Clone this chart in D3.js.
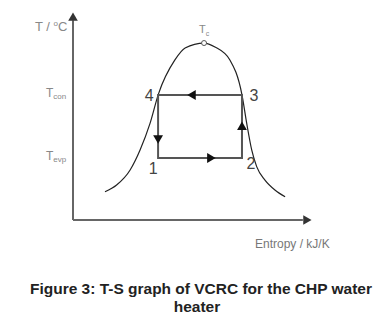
<!DOCTYPE html>
<html lang="en">
  <head>
    <meta charset="utf-8">
    <title>T-S graph of VCRC</title>
    <script src="https://d3js.org/d3.v7.min.js"></script>
    <style>
      body { margin: 0; background: #fff; }
      text { font-family: "Liberation Sans", Arial, sans-serif; }
    </style>
  </head>
  <body>
    <script type="text/javascript">
    // entropy (s) and temperature (T) in arbitrary units, 0..100
    var domeS = [13.5, 18.4, 24.1, 28.3, 32.5, 36.0, 43.0, 47.3, 55.3, 59.9, 66.2, 71.3, 73.3, 75.4, 77.5, 81.0, 85.2, 89.5];
    var domeT = [13.7, 17.0, 24.3, 34.0, 46.9, 61.0, 77.7, 83.5, 85.9, 84.0, 77.7, 60.7, 46.9, 34.0, 25.9, 19.4, 14.6, 11.3];

    // cycle states 1..4
    var cycleLabels = ["1", "2", "3", "4"];
    var cycleS = [35.9, 71.3, 71.3, 35.9];
    var cycleT = [30.1, 30.1, 60.7, 60.7];

    var critical = { s: 55.3, T: 85.9 };

    var w = 386;
    var h = 323;

    var svg = d3.select("body")
                .append("svg")
                .attr("width", w)
                .attr("height", h);

    var xScale = d3.scaleLinear()
                   .domain([0, 100])
                   .range([73, 310]);

    var yScale = d3.scaleLinear()
                   .domain([0, 100])
                   .range([220, 14]);

    // axes
    svg.append("line")
       .attr("x1", xScale(0)).attr("y1", yScale(0))
       .attr("x2", xScale(0)).attr("y2", yScale(97))
       .attr("stroke", "#666").attr("stroke-width", 2);
    svg.append("line")
       .attr("x1", xScale(0)).attr("y1", yScale(0))
       .attr("x2", xScale(97)).attr("y2", yScale(0))
       .attr("stroke", "#666").attr("stroke-width", 2);

    var tri = d3.symbol().type(d3.symbolTriangle).size(40);
    svg.append("path")
       .attr("d", tri)
       .attr("fill", "#333")
       .attr("transform", "translate(" + xScale(0) + "," + (yScale(100) + 4) + ")");
    svg.append("path")
       .attr("d", tri)
       .attr("fill", "#333")
       .attr("transform", "translate(" + (xScale(100) - 4) + "," + yScale(0) + ") rotate(90)");

    // saturation dome
    var domePts = domeS.map(function(s, i) { return [s, domeT[i]]; });
    var line = d3.line()
                 .x(function(d) { return xScale(d[0]); })
                 .y(function(d) { return yScale(d[1]); })
                 .curve(d3.curveMonotoneX);
    svg.append("path")
       .datum(domePts)
       .attr("d", line)
       .attr("fill", "none")
       .attr("stroke", "#222")
       .attr("stroke-width", 1.2);

    // cycle 1-2-3-4
    var cyc = cycleS.map(function(s, i) { return [s, cycleT[i]]; });
    var cycLine = d3.line()
                    .x(function(p) { return xScale(p[0]); })
                    .y(function(p) { return yScale(p[1]); });
    svg.append("path")
       .datum(cyc)
       .attr("d", function(d) { return cycLine(d) + "Z"; })
       .attr("fill", "none")
       .attr("stroke", "#555")
       .attr("stroke-width", 2);

    // direction arrows
    var arrS = [57.8, 71.3, 50.6, 35.9];
    var arrT = [30.1, 45.1, 60.7, 39.8];
    var arrA = [90, 0, -90, 180];
    var smallTri = d3.symbol().type(d3.symbolTriangle).size(42);
    svg.selectAll("path.arr")
       .data(arrS)
       .enter()
       .append("path")
       .attr("class", "arr")
       .attr("d", smallTri)
       .attr("fill", "#111")
       .attr("transform", function(d, i) {
         return "translate(" + xScale(d) + "," + yScale(arrT[i]) + ") rotate(" + arrA[i] + ")";
       });

    // state numbers
    var lblDx = [-5, 9, 12, -9];
    var lblDy = [16, 11, 6, 6];
    svg.selectAll("text.num")
       .data(cycleLabels)
       .enter()
       .append("text")
       .attr("class", "num")
       .attr("x", function(d, i) { return xScale(cycleS[i]) + lblDx[i]; })
       .attr("y", function(d, i) { return yScale(cycleT[i]) + lblDy[i]; })
       .attr("text-anchor", "middle")
       .attr("font-size", 16)
       .attr("fill", "#444")
       .text(function(d) { return d; });

    // critical point
    svg.append("circle")
       .attr("cx", xScale(critical.s))
       .attr("cy", yScale(critical.T))
       .attr("r", 2.5)
       .attr("fill", "#fff")
       .attr("stroke", "#555")
       .attr("stroke-width", 1);
    var tc = svg.append("text")
       .attr("x", xScale(critical.s) - 5)
       .attr("y", yScale(critical.T) - 10)
       .attr("font-size", 11)
       .attr("fill", "#888");
    tc.append("tspan").text("T");
    tc.append("tspan").attr("font-size", 7).attr("dy", 3).text("c");

    // y labels
    var yl = svg.append("text")
       .attr("x", 35).attr("y", 31)
       .attr("font-size", 13)
       .attr("fill", "#888");
    yl.append("tspan").text("T / ");
    yl.append("tspan").attr("font-size", 8).attr("dy", -5).text("o");
    yl.append("tspan").attr("dy", 5).text("C");

    var tcon = svg.append("text")
       .attr("x", 46).attr("y", yScale(cycleT[2]) + 2)
       .attr("font-size", 12)
       .attr("fill", "#888");
    tcon.append("tspan").text("T");
    tcon.append("tspan").attr("font-size", 8).attr("dy", 2).text("con");

    var tevp = svg.append("text")
       .attr("x", 46).attr("y", yScale(cycleT[0]) + 2)
       .attr("font-size", 12)
       .attr("fill", "#888");
    tevp.append("tspan").text("T");
    tevp.append("tspan").attr("font-size", 8).attr("dy", 2).text("evp");

    svg.append("text")
       .attr("x", 255).attr("y", 248)
       .attr("font-size", 12)
       .attr("fill", "#777")
       .text("Entropy / kJ/K");

    // caption
    svg.append("text")
       .attr("x", 30).attr("y", 294)
       .attr("font-size", 15.5)
       .attr("font-weight", "bold")
       .attr("fill", "#222")
       .attr("textLength", 342)
       .attr("lengthAdjust", "spacingAndGlyphs")
       .text("Figure 3: T-S graph of VCRC for the CHP water");
    svg.append("text")
       .attr("x", 197).attr("y", 312)
       .attr("text-anchor", "middle")
       .attr("font-size", 15.5)
       .attr("font-weight", "bold")
       .attr("fill", "#222")
       .text("heater");
    </script>
  </body>
</html>
